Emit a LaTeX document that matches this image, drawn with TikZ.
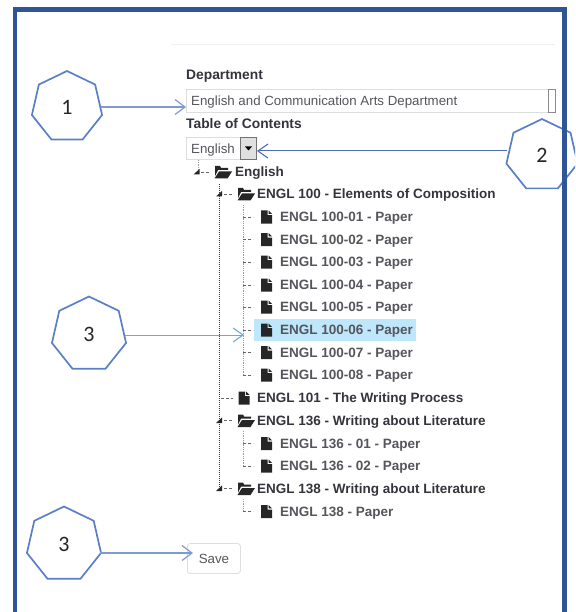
\documentclass[tikz,border=0pt]{standalone}
\usepackage{fontspec}
\setmainfont{Liberation Sans}
\newfontfamily\numfont{Carlito}
\usetikzlibrary{shapes.geometric,arrows.meta}
\definecolor{frameblue}{HTML}{2F5597}
\definecolor{hepblue}{HTML}{5B7FC7}
\definecolor{arrowblue}{HTML}{7F9AD0}
\definecolor{arrowdark}{HTML}{4A6DB5}
\definecolor{arrowlight}{HTML}{6FA8DC}
\definecolor{inktext}{HTML}{34343C}
\definecolor{softtext}{HTML}{55555C}
\definecolor{hilite}{HTML}{BFE7FC}
\definecolor{boxline}{HTML}{DEDEDE}
\definecolor{treegrey}{HTML}{9A9A9A}
\tikzset{
  x=1pt,y=-1pt,
  hep/.style={regular polygon,regular polygon sides=7,draw=hepblue,line width=1.7pt,fill=white,inner sep=0pt,minimum size=#1,font=\numfont\fontsize{22}{22}\selectfont,text=black!85},
  callout/.style={draw=#1,line width=1.4pt,-{Straight Barb[length=10pt,width=15pt,line width=1.2pt]}},
  thincallout/.style={draw=#1,line width=1pt,-{Straight Barb[length=10pt,width=14pt,line width=1.1pt]}},
  fieldbox/.style={draw=boxline,line width=0.9pt,fill=white,inner sep=0pt,anchor=north west},
  heading/.style={font=\bfseries\fontsize{13.8}{14}\selectfont,text=inktext,anchor=west,inner sep=0pt,yshift=-1.5pt},
  field/.style={font=\fontsize{13.3}{14}\selectfont,text=softtext,anchor=west,inner sep=0pt,yshift=-1.5pt},
  folderlabel/.style={font=\bfseries\fontsize{13.5}{14}\selectfont,text=inktext,anchor=west,inner sep=0pt,yshift=-1.5pt},
  filelabel/.style={font=\bfseries\fontsize{13.5}{14}\selectfont,text=softtext,anchor=west,inner sep=0pt,yshift=-1.5pt},
  trunk/.style={black!80,line width=1pt,densely dotted},
  twig/.style={treegrey,line width=0.8pt,densely dotted},
  tick/.style={black!60,line width=0.8pt,densely dashed},
  fileicon/.pic={\fill[black!85] (-5,-6.5) -- (1.5,-6.5) -- (1.5,-2) -- (6,-2) -- (6,6.5) -- (-5,6.5) -- cycle;
    \fill[black!85] (2.6,-6.5) -- (6,-3.1) -- (2.6,-3.1) -- cycle;},
  foldericon/.pic={\fill[black!85] (-7,-6) -- (-2,-6) -- (-1,-4) -- (6,-4) -- (6,-2) -- (-4,-2) -- (-7,4) -- cycle;
    \fill[black!85] (-3,-0.5) -- (10,-0.5) -- (5.5,6.5) -- (-7.5,6.5) -- cycle;},
  fold/.pic={\fill[black!85] (-3.5,2.5) -- (2.5,2.5) -- (2.5,-3) -- cycle;}
}
\begin{document}
\begin{tikzpicture}
\useasboundingbox (0,0) rectangle (575,612);
\begin{scope}
\clip (0,0) rectangle (575,612);
% page rule
\draw[black!6,line width=0.8pt] (171,44) -- (555,44);
% labels and fields
\node[heading] (dlabel) at (186,75) {Department};
\node[fieldbox,minimum width=369pt,minimum height=23pt] (dept) at (186,89) {};
\node[field] (dtext) at (191,101) {English and Communication Arts Department};
\node[fieldbox,draw=black!45,minimum width=7pt,minimum height=23pt] (dbtn) at (548,89) {};
\node[heading] (tlabel) at (186,122) {Table of Contents};
\node[fieldbox,minimum width=55pt,minimum height=22pt] (sel) at (186,137) {};
\node[field] (stext) at (191,148.5) {English};
\node[fieldbox,draw=black!55,fill=black!12,minimum width=16pt,minimum height=22pt] (sbtn) at (240,137) {};
\fill[black] (245,146.5) -- (252,146.5) -- (248.5,150.5) -- cycle;
% highlight
\fill[hilite] (254,319) rectangle (416,341);
% tree trunks
\draw[trunk] (219.5,184) -- (219.5,488);
\draw[twig] (198,160) -- (198,170);
\draw[twig] (243,205) -- (243,375);
\draw[twig] (243,431) -- (243,466);
\draw[twig] (243,499) -- (243,511);
% root
\pic at (197,172) {fold};
\draw[tick] (201,172) -- (209,172);
\pic at (222,172) {foldericon};
\node[folderlabel] (root) at (235,172) {English};
% folders
\foreach \y/\t/\n in {194/ENGL 100 - Elements of Composition/a,420.5/ENGL 136 - Writing about Literature/b,488.5/ENGL 138 - Writing about Literature/c}{
  \pic at (219.5,\y) {fold};
  \draw[tick] (224,\y) -- (234,\y);
  \pic at (245,\y) {foldericon};
  \node[folderlabel] (folder\n) at (257,\y) {\t};
}
% top-level file
\draw[tick] (221,398) -- (233,398);
\pic at (243.5,398) {fileicon};
\node[folderlabel] (single) at (257,398) {ENGL 101 - The Writing Process};
% files
\foreach \y/\t/\n in {217/ENGL 100-01 - Paper/1,239.5/ENGL 100-02 - Paper/2,262/ENGL 100-03 - Paper/3,285/ENGL 100-04 - Paper/4,307/ENGL 100-05 - Paper/5,330/ENGL 100-06 - Paper/6,352.5/ENGL 100-07 - Paper/7,375/ENGL 100-08 - Paper/8,443.5/ENGL 136 - 01 - Paper/9,466/ENGL 136 - 02 - Paper/10,511.5/ENGL 138 - Paper/11}{
  \draw[tick] (243,\y) -- (253,\y);
  \pic at (266,\y) {fileicon};
  \node[filelabel] (file\n) at (280,\y) {\t};
}
% save
\node[draw=boxline,line width=0.9pt,rounded corners=3pt,fill=white,minimum width=53pt,minimum height=30pt,inner sep=0pt,anchor=north west,font=\fontsize{13.3}{14}\selectfont,text=softtext] (save) at (187,543) {Save};
% callouts
\node[hep=72pt] (h1) at (67,107) {1};
\node[hep=73pt] (h2) at (542,155.5) {2};
\node[hep=76pt] (h3) at (89,334.5) {3};
\node[hep=76pt] (h4) at (64,544.5) {3};
\coordinate (t2) at (257,151);
\coordinate (t3) at (244,335);
\coordinate (t4) at (193,553);
\draw[callout=arrowblue] (h1.east) -- (h1.east -| dept.west);
\draw[thincallout=arrowdark] (t2 -| h2.west) -- (t2);
\draw[thincallout=arrowlight] (h3.east |- t3) -- (t3);
\draw[callout=arrowblue] (t4 -| h4.east) -- (t4);
% frame
\draw[frameblue,line width=4.5pt] (15,620) -- (15,9.5) -- (564.5,9.5) -- (564.5,620);
\end{scope}
\end{tikzpicture}
\end{document}
